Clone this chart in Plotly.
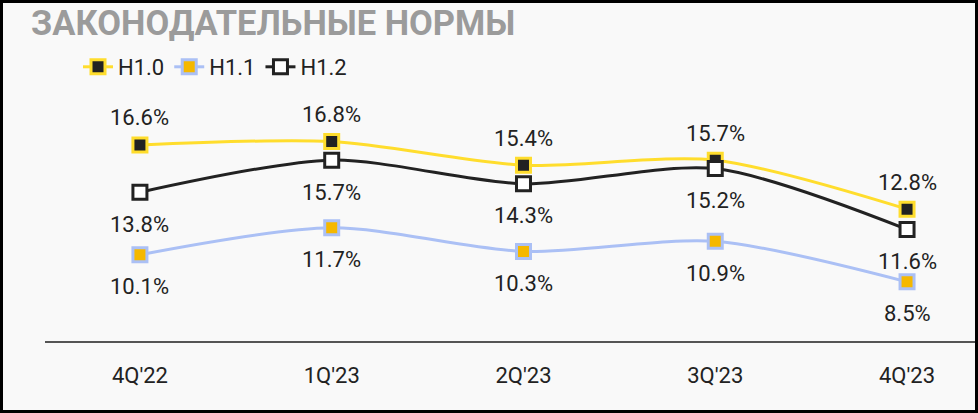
import plotly.graph_objects as go

quarters = ["4Q'22", "1Q'23", "2Q'23", "3Q'23", "4Q'23"]
h10 = [16.6, 16.8, 15.4, 15.7, 12.8]
h11 = [10.1, 11.7, 10.3, 10.9, 8.5]
h12 = [13.8, 15.7, 14.3, 15.2, 11.6]
series_names = ["H1.0", "H1.1", "H1.2"]
title_text = "ЗАКОНОДАТЕЛЬНЫЕ НОРМЫ"

W, H = 978, 413
ML, MR, MT, MB = 45, 0, 90, 72
PW, PH = W - ML - MR, H - MT - MB

YELLOW = "#FFDD2D"
BLUE = "#ABC0F5"
GOLD = "#F5B800"
DARK = "#222222"
BG = "#F9F9F9"
FONT = "Roboto"

fig = go.Figure()
styles = [
    (series_names[0], h10, YELLOW, DARK, YELLOW),
    (series_names[1], h11, BLUE, GOLD, BLUE),
    (series_names[2], h12, DARK, "#FFFFFF", DARK),
]
for name, vals, lc, fill, border in styles:
    fig.add_trace(go.Scatter(
        x=quarters, y=vals, name=name, mode="lines+markers",
        line=dict(color=lc, width=3, shape="spline", smoothing=0.8),
        marker=dict(symbol="square", size=14, color=fill,
                    line=dict(color=border, width=3)),
    ))

ann = []
for vals, shift in [(h10, 27), (h11, -32), (h12, -32)]:
    for q, v in zip(quarters, vals):
        ann.append(dict(x=q, y=v, xref="x", yref="y", text=f"{v:.1f}%",
                        showarrow=False, yshift=shift,
                        font=dict(family=FONT, size=22, color=DARK)))
ann.append(dict(x=-16 / PW, y=1 + 67 / PH, xref="paper", yref="paper",
                xanchor="left", yanchor="middle", text=f"<b>{title_text}</b>",
                showarrow=False,
                font=dict(family=FONT, size=34.5, color="#9B9B9B")))

fig.update_layout(
    width=W, height=H,
    margin=dict(l=ML, r=MR, t=MT, b=MB),
    paper_bgcolor=BG, plot_bgcolor=BG,
    font=dict(family=FONT, size=22, color=DARK),
    showlegend=True,
    legend=dict(orientation="h", x=(78 - ML) / PW, y=1 + (MT - 67) / PH,
                xanchor="left", yanchor="middle", bgcolor="rgba(0,0,0,0)",
                font=dict(family=FONT, size=22, color=DARK),
                itemwidth=30, tracegroupgap=0),
    annotations=ann,
    shapes=[dict(type="rect", xref="paper", yref="paper",
                 x0=-ML / PW, x1=1 + MR / PW, y0=-MB / PH, y1=1 + MT / PH,
                 line=dict(color="#000000", width=6), fillcolor="rgba(0,0,0,0)",
                 layer="above")],
    xaxis=dict(range=[-0.495, 4.37], showgrid=False, zeroline=False,
               showline=True, linecolor="#555555", linewidth=1.5,
               ticks="", ticklabelstandoff=14,
               tickfont=dict(family=FONT, size=22, color=DARK)),
    yaxis=dict(range=[5.0, 19.85], showgrid=False, zeroline=False,
               showticklabels=False, showline=False),
)

fig.write_html("out.html", config={"displayModeBar": False},
               post_script="document.body.style.margin='0';document.body.style.overflow='hidden';")
